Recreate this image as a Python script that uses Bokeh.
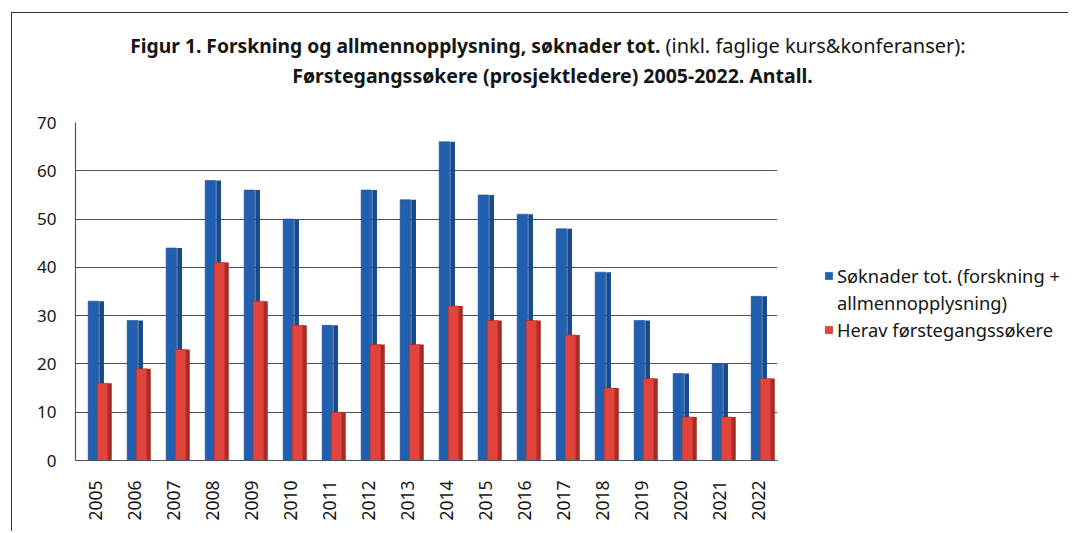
from bokeh.plotting import figure
from bokeh.layouts import column, row
from bokeh.models import (ColumnDataSource, Range1d, FactorRange, Legend, LegendItem,
                          FixedTicker, Label)
from bokeh.transform import dodge
from bokeh.embed import file_html
from bokeh.resources import INLINE

years = [str(y) for y in range(2005, 2023)]
soknader_tot = [33, 29, 44, 58, 56, 50, 28, 56, 54, 66, 55, 51, 48, 39, 29, 18, 20, 34]
forstegang = [16, 19, 23, 41, 33, 28, 10, 24, 24, 32, 29, 29, 26, 15, 17, 9, 9, 17]
yticks = [0, 10, 20, 30, 40, 50, 60, 70]

legend_lines = ["Søknader tot. (forskning +", "allmennopplysning)", "Herav førstegangssøkere"]
title_bold_1 = "Figur 1. Forskning og allmennopplysning, søknader tot."
title_norm_1 = "(inkl. faglige kurs&konferanser):"
title_bold_2 = "Førstegangssøkere (prosjektledere) 2005-2022. Antall."

FONT = "Noto Sans"
BLUE = "#2160B0"
BLUE_SIDE = "#174A8C"
RED = "#E2433C"
RED_SIDE = "#A82B26"
GRID = "#4E5468"
TXT = "#151515"

src = ColumnDataSource(dict(year=years, tot=soknader_tot, first=forstegang))

# ---------- title strip ----------
ft = figure(width=1056, height=88, x_range=Range1d(0, 1056), y_range=Range1d(0, 88),
            x_axis_type=None, y_axis_type=None, output_backend="svg", toolbar_location=None,
            min_border=0)
ft.outline_line_color = None
ft.grid.visible = False
for txt, x, y, size, bold, align in [
    (title_bold_1, 648, 56, "19.3px", True, "right"),
    (title_norm_1, 653, 56, "20px", False, "left"),
    (title_bold_2, 540, 26, "19.5px", True, "center"),
]:
    ft.add_layout(Label(x=x, y=y, text=txt, text_font=FONT, text_font_size=size,
                        text_font_style="bold" if bold else "normal",
                        text_align=align, text_baseline="middle", text_color=TXT))

# ---------- chart ----------
p = figure(x_range=FactorRange(*years), y_range=Range1d(0, 70),
           width=775, height=430, output_backend="svg", toolbar_location=None,
           min_border_left=63, min_border_right=10, min_border_top=21, min_border_bottom=71)
p.outline_line_color = None

p.vbar(x=dodge("year", -0.04, range=p.x_range), top="tot", width=0.27, source=src,
       fill_color=BLUE, line_color=BLUE_SIDE, line_width=0.6)
p.vbar(x=dodge("year", 0.17, range=p.x_range), top="tot", width=0.12, source=src,
       fill_color=BLUE_SIDE, line_color=None)
p.vbar(x=dodge("year", 0.195, range=p.x_range), top="first", width=0.28, source=src,
       fill_color=RED, line_color=RED_SIDE, line_width=0.6)
p.vbar(x=dodge("year", 0.38, range=p.x_range), top="first", width=0.10, source=src,
       fill_color=RED_SIDE, line_color=None)

p.xgrid.grid_line_color = None
p.ygrid.grid_line_color = GRID
p.ygrid.grid_line_width = 1.2
p.ygrid.ticker = FixedTicker(ticks=yticks)

p.yaxis.ticker = FixedTicker(ticks=yticks)
p.yaxis.axis_line_color = GRID
p.yaxis.axis_line_width = 1.2
p.yaxis.major_tick_line_color = None
p.yaxis.major_tick_out = 0
p.yaxis.major_tick_in = 0
p.yaxis.minor_tick_line_color = None
p.yaxis.major_label_standoff = 19
p.yaxis.major_label_text_font = FONT
p.yaxis.major_label_text_font_size = "17px"
p.yaxis.major_label_text_color = TXT

p.xaxis.axis_line_color = GRID
p.xaxis.axis_line_width = 1.2
p.xaxis.major_tick_line_color = None
p.xaxis.major_tick_out = 0
p.xaxis.major_tick_in = 0
p.xaxis.major_label_orientation = 1.5708
p.xaxis.major_label_standoff = 20
p.xaxis.major_label_text_font = FONT
p.xaxis.major_label_text_font_size = "17.5px"
p.xaxis.major_label_text_color = TXT
p.x_range.range_padding = 0.0

# ---------- legend panel (its frame is aligned with the chart frame by the row) ----------
fl = figure(width=281, height=430, x_range=Range1d(0, 1), y_range=Range1d(0, 1),
            x_axis_type=None, y_axis_type=None, output_backend="svg", toolbar_location=None,
            min_border=0)
fl.outline_line_color = None
fl.grid.visible = False
# swatch renderers: same data, placed outside this panel's ranges so only the legend shows
lb = fl.vbar(x="tot", top="tot", width=0.5, source=src,
             fill_color=BLUE, line_color=BLUE_SIDE, line_width=0.6)
lnone = fl.vbar(x="tot", top="tot", width=0.5, source=src, fill_alpha=0, line_alpha=0)
lr = fl.vbar(x="first", top="first", width=0.5, source=src,
             fill_color=RED, line_color=RED_SIDE, line_width=0.6)

legend = Legend(items=[LegendItem(label=legend_lines[0], renderers=[lb]),
                       LegendItem(label=legend_lines[1], renderers=[lnone]),
                       LegendItem(label=legend_lines[2], renderers=[lr])],
                location=(37, 118), label_text_font=FONT, label_text_font_size="18.3px",
                label_text_color=TXT, label_height=23, glyph_width=9, glyph_height=9,
                border_line_color=None, background_fill_alpha=0, spacing=2,
                label_standoff=4, padding=0, margin=0)
fl.add_layout(legend, "center")

layout = column(ft, row(p, fl, spacing=0), spacing=0)
layout.styles = {"margin-left": "11px", "margin-top": "12px",
                 "border-top": "1px solid #333", "border-left": "1px solid #333"}

open("out.html", "w").write(file_html(layout, INLINE))
